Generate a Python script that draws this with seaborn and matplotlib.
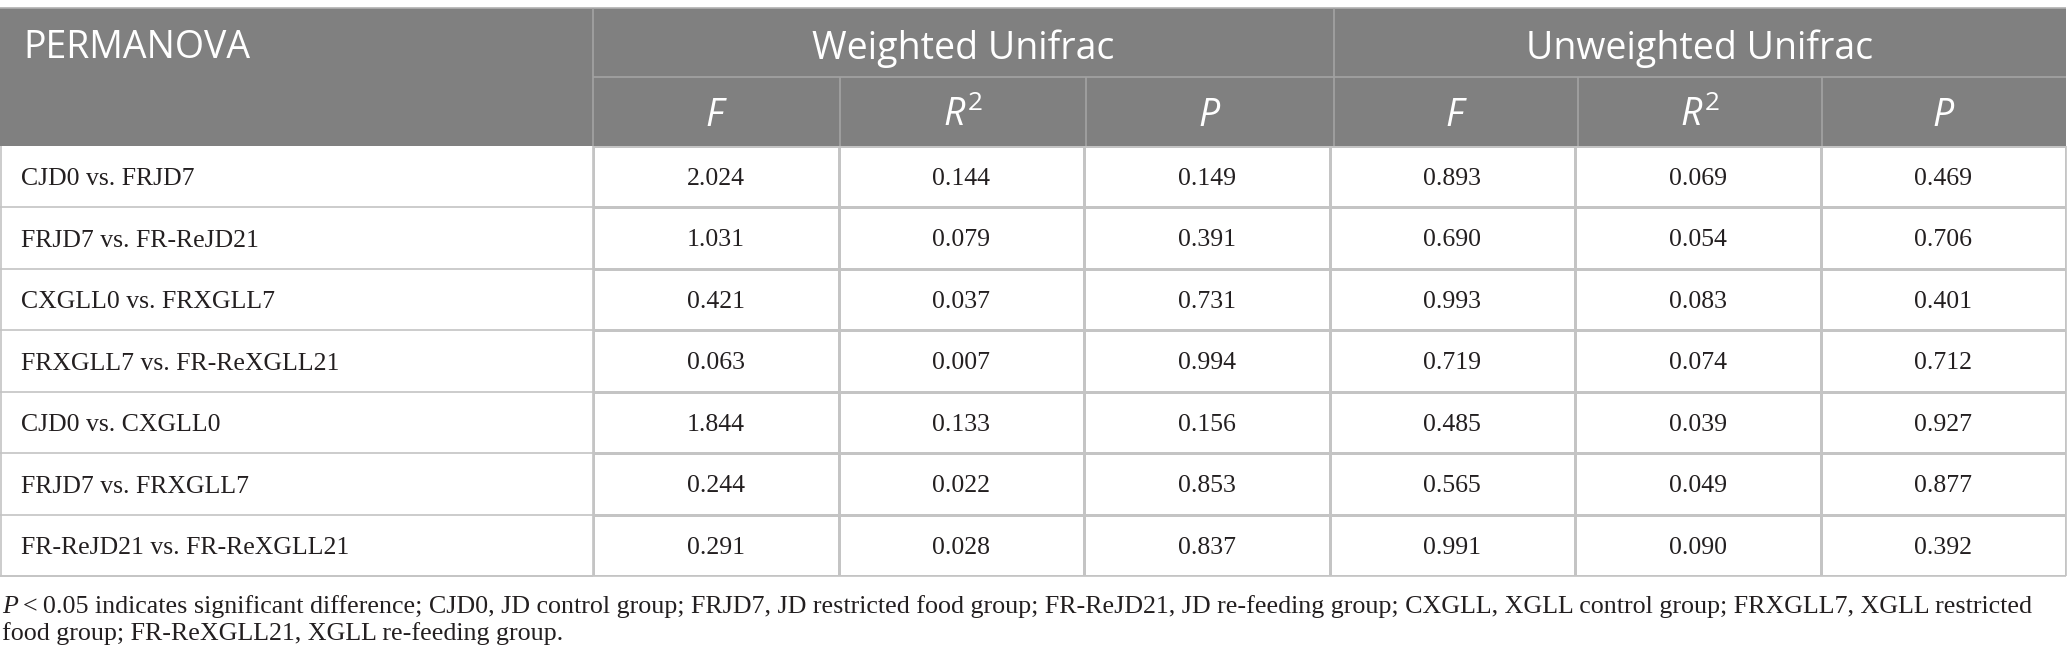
import matplotlib

matplotlib.use("Agg")
import matplotlib.pyplot as plt
import numpy as np
import pandas as pd
import seaborn as sns
from matplotlib.colors import ListedColormap
from matplotlib.patches import Rectangle

# ---- table content -------------------------------------------------------
COMPARISONS = [
    "CJD0 vs. FRJD7",
    "FRJD7 vs. FR-ReJD21",
    "CXGLL0 vs. FRXGLL7",
    "FRXGLL7 vs. FR-ReXGLL21",
    "CJD0 vs. CXGLL0",
    "FRJD7 vs. FRXGLL7",
    "FR-ReJD21 vs. FR-ReXGLL21",
]
GROUPS = ["Weighted Unifrac", "Unweighted Unifrac"]
STATS = ["$F$", "$R^2$", "$P$"]

WEIGHTED_F = [2.024, 1.031, 0.421, 0.063, 1.844, 0.244, 0.291]
WEIGHTED_R2 = [0.144, 0.079, 0.037, 0.007, 0.133, 0.022, 0.028]
WEIGHTED_P = [0.149, 0.391, 0.731, 0.994, 0.156, 0.853, 0.837]
UNWEIGHTED_F = [0.893, 0.690, 0.993, 0.719, 0.485, 0.565, 0.991]
UNWEIGHTED_R2 = [0.069, 0.054, 0.083, 0.074, 0.039, 0.049, 0.090]
UNWEIGHTED_P = [0.469, 0.706, 0.401, 0.712, 0.927, 0.877, 0.392]

NOTE_LINES = [
    "<\u20090.05 indicates significant difference; CJD0, JD control group; FRJD7, JD restricted "
    "food group; FR-ReJD21, JD re-feeding group; CXGLL, XGLL control group; FRXGLL7, XGLL restricted",
    "food group; FR-ReXGLL21, XGLL re-feeding group.",
]

# ---- layout (pixels) -----------------------------------------------------
W, H = 2067, 669
COL_EDGES = [0, 593, 840, 1086, 1334, 1578, 1822, 2066]
HEAD_TOP, HEAD_MID, HEAD_BOT = 8, 77, 145.5
ROW_H = 61.5
HEAD_BG = "#808080"
HEAD_LINE = "#a3a3a3"
BODY_LINE = "#c4c4c4"
INK = "#231f20"

sns.set_theme(style="white")
plt.rcParams.update(
    {
        "mathtext.fontset": "custom",
        "mathtext.it": "Open Sans:italic",
        "mathtext.rm": "Open Sans",
    }
)

values = pd.DataFrame(
    np.column_stack(
        [WEIGHTED_F, WEIGHTED_R2, WEIGHTED_P, UNWEIGHTED_F, UNWEIGHTED_R2, UNWEIGHTED_P]
    ),
    index=COMPARISONS,
)
labels = values.map(lambda v: f"{v:.3f}")
n_rows = len(COMPARISONS)
body_bot = HEAD_BOT + n_rows * ROW_H

fig = plt.figure(figsize=(W / 100, H / 100), dpi=100)
ax = fig.add_axes([0, 0, 1, 1])
ax.set_xlim(0, W)
ax.set_ylim(H, 0)
ax.axis("off")

# header block
ax.add_patch(Rectangle((0, HEAD_TOP), COL_EDGES[-1], HEAD_BOT - HEAD_TOP,
                       facecolor=HEAD_BG, edgecolor="none"))
ax.hlines(HEAD_TOP, 0, COL_EDGES[-1], color="#b0b0b0", lw=1.2)
ax.hlines(HEAD_MID, COL_EDGES[1], COL_EDGES[-1], color=HEAD_LINE, lw=1.2)
ax.vlines([COL_EDGES[1], COL_EDGES[4]], HEAD_TOP, HEAD_BOT, color=HEAD_LINE, lw=1.2)
ax.vlines([COL_EDGES[2], COL_EDGES[3], COL_EDGES[5], COL_EDGES[6]], HEAD_MID, HEAD_BOT,
          color=HEAD_LINE, lw=1.2)

head_font = dict(family="Open Sans", color="white", fontsize=27)
ax.text(23, 58.5, "PERMANOVA", ha="left", va="baseline", **head_font)
for g, name in enumerate(GROUPS):
    cx = (COL_EDGES[1 + 3 * g] + COL_EDGES[4 + 3 * g]) / 2
    ax.text(cx, 58.5, name, ha="center", va="baseline", **head_font)
    for s, stat in enumerate(STATS):
        c = 1 + 3 * g + s
        ax.text((COL_EDGES[c] + COL_EDGES[c + 1]) / 2, 126, stat,
                ha="center", va="baseline", **head_font)

# body: comparison column + outer lines
for i, name in enumerate(COMPARISONS):
    top = HEAD_BOT + i * ROW_H
    ax.text(21, top + ROW_H / 2 + 9, name, ha="left", va="baseline",
            family="Liberation Serif", fontsize=18.5, color=INK)
ax.hlines([HEAD_BOT + i * ROW_H for i in range(1, n_rows + 1)], 0, COL_EDGES[1],
          color=BODY_LINE, lw=1.2)
ax.hlines(body_bot, 0, COL_EDGES[-1], color=BODY_LINE, lw=1.2)
ax.vlines([0.75, COL_EDGES[1], COL_EDGES[-1]], HEAD_BOT, body_bot, color=BODY_LINE, lw=1.2)

# body: numeric cells as a seaborn heatmap
hm_ax = fig.add_axes([COL_EDGES[1] / W, (H - body_bot) / H,
                      (COL_EDGES[-1] - COL_EDGES[1]) / W, (body_bot - HEAD_BOT) / H])
sns.heatmap(
    values,
    ax=hm_ax,
    cmap=ListedColormap(["white"]),
    cbar=False,
    annot=labels,
    fmt="",
    linewidths=0.9,
    linecolor=BODY_LINE,
    annot_kws={"family": "Liberation Serif", "fontsize": 18.5, "color": INK,
               "va": "center_baseline"},
    xticklabels=False,
    yticklabels=False,
)
hm_ax.set_xlabel("")
hm_ax.set_ylabel("")

# footnote
note_font = dict(family=["Liberation Serif", "DejaVu Serif"], fontsize=18.7, color=INK)
p = ax.text(2, 613, "P", ha="left", va="baseline", style="italic", **note_font)
renderer = fig.canvas.get_renderer()
bb = p.get_window_extent(renderer=renderer)
ax.text(bb.x1 + 5, 613, NOTE_LINES[0], ha="left", va="baseline", **note_font)
ax.text(2, 640, NOTE_LINES[1], ha="left", va="baseline", **note_font)

fig.savefig("out.png", dpi=100, facecolor="white")
